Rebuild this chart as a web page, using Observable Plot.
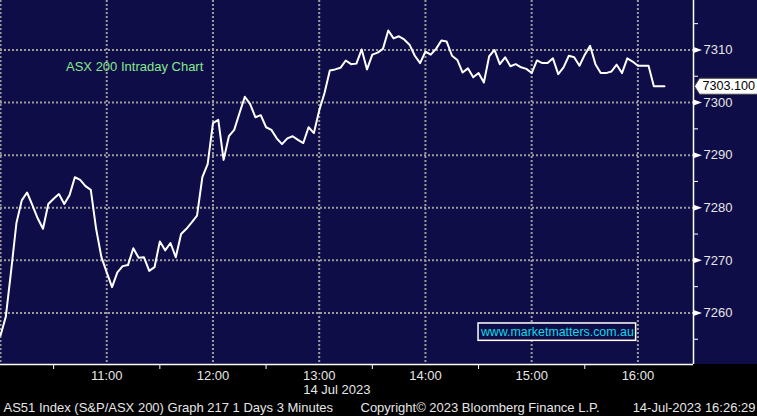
<!DOCTYPE html>
<html><head><meta charset="utf-8">
<script src="https://cdn.jsdelivr.net/npm/d3@7"></script>
<script src="https://cdn.jsdelivr.net/npm/@observablehq/plot@0.6"></script>
<style>
html,body{margin:0;padding:0;background:#000;}
#chart{width:757px;height:416px;}
</style></head><body><div id="chart"></div>
<script>
const times = [
"10:00","10:03","10:06","10:09","10:12","10:15","10:18","10:21","10:24","10:27","10:30","10:33","10:36","10:39","10:42","10:45","10:48","10:51","10:54","10:57",
"11:00","11:03","11:06","11:09","11:12","11:15","11:18","11:21","11:24","11:27","11:30","11:33","11:36","11:39","11:42","11:45","11:48","11:51","11:54","11:57",
"12:00","12:03","12:06","12:09","12:12","12:15","12:18","12:21","12:24","12:27","12:30","12:33","12:36","12:39","12:42","12:45","12:48","12:51","12:54","12:57",
"13:00","13:03","13:06","13:09","13:12","13:15","13:18","13:21","13:24","13:27","13:30","13:33","13:36","13:39","13:42","13:45","13:48","13:51","13:54","13:57",
"14:00","14:03","14:06","14:09","14:12","14:15","14:18","14:21","14:24","14:27","14:30","14:33","14:36","14:39","14:42","14:45","14:48","14:51","14:54","14:57",
"15:00","15:03","15:06","15:09","15:12","15:15","15:18","15:21","15:24","15:27","15:30","15:33","15:36","15:39","15:42","15:45","15:48","15:51","15:54","15:57",
"16:00","16:03","16:06","16:09","16:12","16:15"];
const values = [
7255.7,7259.3,7268.0,7277.1,7281.4,7282.9,7280.5,7278.0,7276.0,7280.7,
7281.7,7282.6,7280.7,7282.4,7285.8,7285.3,7284.1,7283.4,7276.0,7270.6,
7267.7,7264.9,7267.7,7268.9,7269.1,7272.3,7270.5,7270.6,7268.0,7268.7,
7273.6,7271.9,7273.3,7270.6,7275.0,7276.0,7277.2,7278.5,7285.8,7288.3,
7296.1,7296.7,7289.1,7293.6,7294.8,7298.0,7301.1,7299.7,7297.2,7297.6,
7295.3,7294.8,7293.2,7292.1,7293.2,7293.6,7292.9,7292.3,7295.3,7294.2,
7298.5,7301.8,7306.1,7306.3,7306.6,7308.0,7307.3,7307.4,7310.1,7306.3,
7309.1,7309.5,7310.2,7313.7,7312.2,7312.6,7312.0,7311.0,7308.9,7307.5,
7309.7,7309.1,7310.2,7311.8,7311.6,7308.9,7308.1,7305.7,7306.5,7304.8,
7305.6,7303.8,7308.8,7310.0,7307.3,7308.6,7306.9,7307.3,7306.7,7306.4,
7305.6,7308.0,7307.5,7307.5,7308.4,7305.4,7306.7,7308.9,7308.6,7307.0,
7309.1,7310.8,7307.3,7305.6,7305.6,7305.9,7307.2,7305.6,7308.4,7307.8,
7307.0,7307.0,7307.0,7303.1,7303.1,7303.1];
const hourTicks = ["10:00","11:00","12:00","13:00","14:00","15:00","16:00"];
const hourLabels = ["11:00","12:00","13:00","14:00","15:00","16:00"];
const halfHourTicks = ["10:30","11:30","12:30","13:30","14:30","15:30"];
const majorY = [7260,7270,7280,7290,7300,7310];
const minorY = [7255,7265,7275,7285,7295,7305,7315];
const lastPrice = 7303.1;
const lastPriceLabel = "7303.100";
const title = "ASX 200 Intraday Chart";
const dateLabel = "14 Jul 2023";
const footerLeft = "AS51 Index (S&P/ASX 200) Graph 217 1 Days 3 Minutes";
const footerMid = "Copyright\u00a9 2023 Bloomberg Finance L.P.";
const footerRight = "14-Jul-2023 16:26:29";
const watermark = "www.marketmatters.com.au";

const toMin = s => +s.slice(0,2)*60 + +s.slice(3);
const fmt = m => String(Math.floor(m/60)).padStart(2,"0") + ":" + String(Math.round(m%60)).padStart(2,"0");
const series = times.map((t,i) => ({t: toMin(t), v: values[i]}));

const NAVY = "#0f0d47";
const TXT = "#e6e6e6";
const FONT = "'Liberation Sans', Arial, sans-serif";

const arrowSym = {draw(ctx){ctx.moveTo(0,-3);ctx.lineTo(8.5,0);ctx.lineTo(0,3);ctx.closePath();}};
const tagSym = {draw(ctx){ctx.moveTo(1,0);ctx.lineTo(6,-8);ctx.lineTo(70,-8);ctx.lineTo(70,8);ctx.lineTo(6,8);ctx.closePath();}};

const chart = Plot.plot({
  width: 757, height: 416,
  marginTop: 0, marginBottom: 52, marginLeft: 0, marginRight: 64,
  style: {background: `linear-gradient(to bottom, ${NAVY} 0px, ${NAVY} 364px, #000 364px, #000 416px)`, color: TXT, fontFamily: FONT, fontSize: "13px", overflow: "visible"},
  x: {domain: [600, 991.4]},
  y: {domain: [7250.2, 7319.4]},
  marks: [
    Plot.gridX(hourTicks.map(toMin), {stroke: "#9c9c9c", strokeOpacity: 1, strokeWidth: 2, strokeDasharray: "2,2"}),
    Plot.gridY(majorY, {stroke: "#9c9c9c", strokeOpacity: 1, strokeWidth: 2, strokeDasharray: "2,2"}),
    Plot.text([title], {x: toMin("10:37"), y: 7306.7, text: d => d, textAnchor: "start", fill: "#86e88c", fontSize: 13}),
    Plot.rect([watermark], {x1: toMin("14:30"), x2: toMin("15:59"), y1: 7254.7, y2: 7258.0, fill: NAVY, stroke: "white", strokeWidth: 1.5}),
    Plot.text([watermark], {x: (toMin("14:30")+toMin("15:59"))/2, y: 7256.4, text: d => d, fill: "#10d8e8", fontSize: 12.4}),
    Plot.line(series, {x: "t", y: "v", stroke: "white", strokeWidth: 2}),
    Plot.ruleX([991.4], {stroke: "white", strokeWidth: 1.5}),
    Plot.ruleY([7250.2], {stroke: "white", strokeWidth: 1.5}),
    Plot.axisX(hourLabels.map(toMin), {tickSize: 0, tickPadding: 6, tickFormat: fmt, fontSize: 13, fill: TXT, label: null}),
    Plot.axisX(halfHourTicks.map(toMin), {tickSize: 5, text: null, stroke: "white", label: null}),
    Plot.axisY(minorY, {anchor: "right", tickSize: 4, text: null, stroke: "white", label: null}),
    Plot.axisY(majorY, {anchor: "right", tickSize: 0, tickPadding: 10, tickFormat: d => String(d), fontSize: 13, fill: TXT, label: null}),
    Plot.dot(majorY, {y: d => d, frameAnchor: "right", symbol: arrowSym, fill: "white", stroke: "none"}),
    Plot.dot([lastPrice], {y: d => d, frameAnchor: "right", symbol: tagSym, fill: "white", stroke: "#444", strokeWidth: 1}),
    Plot.text([lastPrice], {y: d => d, frameAnchor: "right", text: () => lastPriceLabel, dx: 9, textAnchor: "start", fill: "black", fontSize: 12.6}),
    Plot.text([dateLabel], {x: toMin("13:00"), frameAnchor: "bottom", text: d => d, dx: -16, dy: 25.8, textAnchor: "start", lineAnchor: "middle", fill: TXT, fontSize: 13}),
    Plot.text([footerLeft], {frameAnchor: "bottom-left", text: d => d, dx: 3, dy: 43.8, textAnchor: "start", lineAnchor: "middle", fill: TXT, fontSize: 13}),
    Plot.text([footerMid], {frameAnchor: "bottom-left", text: d => d, dx: 360, dy: 43.8, textAnchor: "start", lineAnchor: "middle", fill: TXT, fontSize: 13}),
    Plot.text([footerRight], {frameAnchor: "bottom-right", text: d => d, dx: 62, dy: 43.8, textAnchor: "end", lineAnchor: "middle", fill: TXT, fontSize: 13})
  ]
});
document.getElementById("chart").appendChild(chart);
</script></body></html>
